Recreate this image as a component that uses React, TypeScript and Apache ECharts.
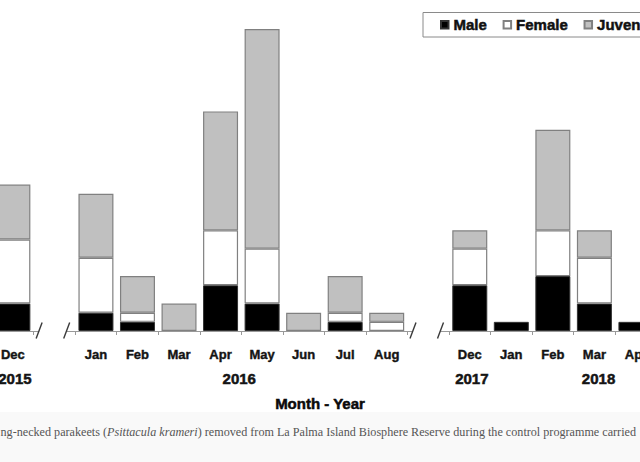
import React, { useEffect, useRef } from "react";
import * as echarts from "echarts";

// Month categories; "" marks the broken (skipped) stretches of the time axis
const categories = ["Dec", "", "Jan", "Feb", "Mar", "Apr", "May", "Jun", "Jul", "Aug", "", "Dec", "Jan", "Feb", "Mar", "Apr"];
const male = [3, 0, 2, 1, 0, 5, 3, 0, 1, 0, 0, 5, 1, 6, 3, 1];
const female = [7, 0, 6, 1, 0, 6, 6, 0, 1, 1, 0, 4, 0, 5, 5, 0];
const juvenile = [6, 0, 7, 4, 3, 13, 24, 2, 4, 1, 0, 2, 0, 11, 3, 0];
// Year labels and the category position (index, may be fractional) they sit under
const years = ["2015", "2016", "2017", "2018"];
const yearAt = [0.05, 5.45, 11.05, 14.1];
// indices of the break categories
const breakIdx = [1, 10];

const SANS = "'Liberation Sans', Arial, sans-serif";
const SERIF = "'Liberation Serif', 'Times New Roman', serif";

export default function App() {
  const ref = useRef<HTMLDivElement>(null);
  useEffect(() => {
    if (!ref.current) return;
    const chart = echarts.init(ref.current, null, { renderer: "svg" });
    const nz = (a: number[]) => a.map((v) => (v === 0 ? null : v));
    const border = "#808080";
    const option: any = {
      animation: false,
      backgroundColor: "#ffffff",
      grid: {
        left: -7.9,
        right: -16.7,
        top: 10.75,
        bottom: 131,
        containLabel: false,
        outerBoundsMode: "none",
      },
      legend: {
        left: 423,
        top: 12.5,
        width: 320,
        padding: [4.5, 12, 4.5, 17],
        borderColor: "#8a8a8a",
        borderWidth: 1,
        icon: "rect",
        itemWidth: 7.5,
        itemHeight: 7.5,
        itemGap: 15.5,
        textStyle: {
          fontFamily: SANS,
          fontWeight: "bold",
          fontSize: 15,
          color: "#111",
          textBorderColor: "#111",
          textBorderWidth: 0.5,
        },
        data: ["Male", "Female", "Juvenile"],
      },
      xAxis: {
        type: "category",
        data: categories,
        boundaryGap: true,
        axisLine: { show: false },
        axisTick: { show: true, length: 4, interval: 0, lineStyle: { color: "#999", width: 1 } },
        axisLabel: {
          interval: 0,
          margin: 17,
          fontFamily: SANS,
          fontWeight: "bold",
          fontSize: 13,
          color: "#141414",
          textBorderColor: "#141414",
          textBorderWidth: 0.4,
        },
      },
      yAxis: { type: "value", min: 0, max: 35, show: false, splitLine: { show: false } },
      series: [
        {
          name: "Male",
          type: "bar",
          stack: "total",
          barWidth: 35,
          data: nz(male),
          itemStyle: { color: "#000000", borderColor: "#333", borderWidth: 1 },
        },
        {
          name: "Female",
          type: "bar",
          stack: "total",
          barWidth: 35,
          data: nz(female),
          itemStyle: { color: "#ffffff", borderColor: border, borderWidth: 1.2 },
        },
        {
          name: "Juvenile",
          type: "bar",
          stack: "total",
          barWidth: 35,
          data: nz(juvenile),
          itemStyle: { color: "#c0c0c0", borderColor: border, borderWidth: 1.2 },
        },
      ],
    };
    chart.setOption(option);

    const px = (i: number) => {
      const lo = Math.floor(i);
      const a = chart.convertToPixel({ xAxisIndex: 0 }, lo) as number;
      if (i === lo) return a;
      const b = chart.convertToPixel({ xAxisIndex: 0 }, lo + 1) as number;
      return a + (b - a) * (i - lo);
    };
    const y0 = chart.convertToPixel({ yAxisIndex: 0 }, 0) as number;
    const bw = px(1) - px(0);
    const n = categories.length;

    const graphics: any[] = [];
    // axis line segments, broken at the gap categories
    const cuts: number[] = [px(0) - bw / 2 - 20];
    breakIdx.forEach((b) => {
      cuts.push(px(b) - bw / 2 + 5.5);
      cuts.push(px(b) + bw / 2 - 8.5);
    });
    cuts.push(px(n - 1) + bw / 2 + 20);
    for (let k = 0; k < cuts.length; k += 2) {
      graphics.push({
        type: "line",
        shape: { x1: cuts[k], y1: y0 + 0.5, x2: cuts[k + 1], y2: y0 + 0.5 },
        style: { stroke: "#999", lineWidth: 1 },
        silent: true,
      });
    }
    // break slashes
    for (let k = 1; k < cuts.length - 1; k++) {
      const x = cuts[k];
      graphics.push({
        type: "line",
        shape: { x1: x - 3, y1: y0 + 7.5, x2: x + 3, y2: y0 - 8.5 },
        style: { stroke: "#3a3a3a", lineWidth: 1.4 },
        silent: true,
      });
    }
    // year labels
    years.forEach((yr, i) => {
      graphics.push({
        type: "text",
        x: px(yearAt[i]),
        y: 378,
        style: {
          text: yr,
          fontFamily: SANS,
          fontWeight: "bold",
          fontSize: 15,
          fill: "#141414",
          stroke: "#141414",
          lineWidth: 0.5,
          align: "center",
          verticalAlign: "middle",
        },
        silent: true,
      });
    });
    // axis title
    graphics.push({
      type: "text",
      x: 320,
      y: 403.5,
      style: {
        text: "Month - Year",
        fontFamily: SANS,
        fontWeight: "bold",
        fontSize: 15,
        fill: "#0a0a0a",
        stroke: "#0a0a0a",
        lineWidth: 0.5,
        align: "center",
        verticalAlign: "middle",
      },
      silent: true,
    });
    // caption band
    graphics.push({
      type: "rect",
      shape: { x: 0, y: 412, width: 640, height: 50 },
      style: { fill: "#f9f9f9" },
      silent: true,
      z: -10,
    });
    graphics.push({
      type: "text",
      x: 0.5,
      y: 431.5,
      style: {
        text: "ng-necked parakeets ({i|Psittacula krameri}) removed from La Palma Island Biosphere Reserve during the control programme carried",
        fontFamily: SERIF,
        fontSize: 12.15,
        fill: "#555555",
        align: "left",
        verticalAlign: "middle",
        rich: {
          i: { fontStyle: "italic", fontFamily: SERIF, fontSize: 12.15, fill: "#555555" },
        },
      },
      silent: true,
    });
    chart.setOption({ graphic: graphics });

    return () => chart.dispose();
  }, []);

  return (
    <div
      ref={ref}
      style={{ position: "fixed", left: 0, top: 0, width: 640, height: 462, background: "#fff" }}
    />
  );
}
